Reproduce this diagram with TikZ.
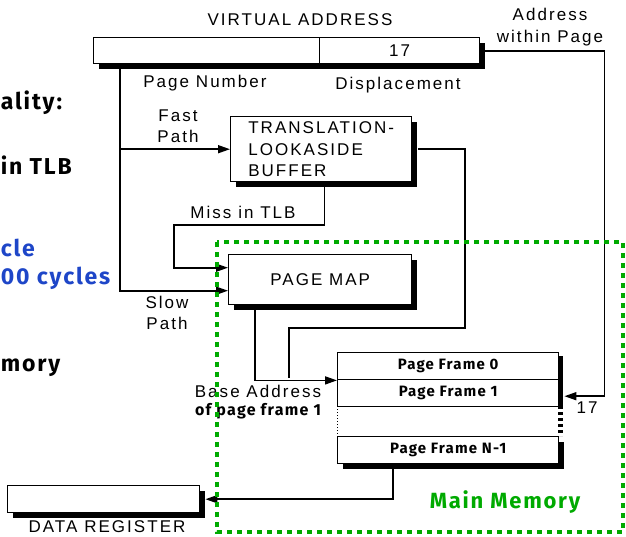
\documentclass[tikz,border=0pt]{standalone}
\usepackage{fontspec}
\setmainfont{Liberation Sans}
\newfontfamily\boxfont[LetterSpace=12]{Liberation Sans}
\newfontfamily\comicfont[LetterSpace=8]{Fira Sans}
\usetikzlibrary{arrows.meta}
\usetikzlibrary{shadows}

\definecolor{memgreen}{RGB}{0,170,0}
\definecolor{noteblue}{RGB}{30,70,200}

\begin{document}
\begin{tikzpicture}[x=1pt,y=-1pt,line width=1.6pt,
  box/.style={draw,fill=white,line width=1.4pt,inner sep=0pt,anchor=north west,
    drop shadow={shadow xshift=5pt,shadow yshift=-5pt,opacity=1,fill=black}},
  lbl/.style={font={\boxfont\fontsize{17}{21.5}\selectfont},inner sep=0pt},
  frame/.style={draw,fill=white,line width=1.4pt,inner sep=0pt,anchor=north west,
    minimum width=221pt,minimum height=27pt,font={\comicfont\bfseries\fontsize{15}{17}\selectfont}},
  note/.style={anchor=west,inner sep=0pt,font={\comicfont\bfseries\fontsize{23}{25}\selectfont}},
  wire/.style={-{Triangle[length=12pt,width=8pt]}}]
\useasboundingbox (0,0) rectangle (626,536);
\clip (0,0) rectangle (626,536);

% slide text cut off at the left
\node[note] (n1) at (0,103) {ality:};
\node[note] (n2) at (0,165) {in TLB};
\node[note,noteblue] (n3) at (0,248) {cle};
\node[note,noteblue] (n4) at (0,278) {00 cycles};
\node[note] (n5) at (0,368) {mory};

% virtual address
\node[lbl] (vatitle) at (300,20) {VIRTUAL ADDRESS};
\node[box,minimum width=226pt,minimum height=26pt] (vapage) at (93,37) {};
\node[box,lbl,minimum width=160pt,minimum height=26pt,anchor=north west] (vadisp) at (319,37) {17};
\node[lbl] (pnlbl) at (205,83) {Page Number};
\node[lbl] (displbl) at (398,85) {Displacement};
\node[lbl,align=center] (offlbl) at (550,27) {Address\\within Page};

% TLB and page map
\node[box,lbl,align=left,minimum width=181pt,minimum height=65pt] (tlb) at (230,116) {TRANSLATION-\\LOOKASIDE\\BUFFER};
\node[box,lbl,minimum width=183pt,minimum height=50pt] (pagemap) at (228,254) {PAGE MAP};
\node[lbl,align=center] (fastlbl) at (178,126) {Fast\\Path};
\node[lbl] (misslbl) at (243,212) {Miss in TLB};
\node[lbl,align=center] (slowlbl) at (167,313) {Slow\\Path};

% page frames
\fill (558,356) rectangle (563,406);
\draw[line width=5pt,dash pattern=on 3pt off 3pt] (560.5,406) -- (560.5,436);
\draw[line width=1pt,dotted] (337,406) -- (337,436);
\node[frame] (frame0) at (337,352) {Page Frame 0};
\node[frame] (frame1) at (337,379) {Page Frame 1};
\node[frame,drop shadow={shadow xshift=5pt,shadow yshift=-5pt,opacity=1,fill=black}] (frameN) at (337,436) {Page Frame N-1};
\node[lbl] (baselbl) at (258,391) {Base Address};
\node[inner sep=0pt,font={\comicfont\bfseries\fontsize{16}{18}\selectfont}] (baselbl2) at (258,411) {of page frame 1};
\node[lbl] (offnum) at (587,408) {17};

% data register
\node[box,minimum width=192pt,minimum height=27pt] (datareg) at (7,485) {};
\node[lbl] (dreglbl) at (107,527) {DATA REGISTER};

% connectors
\coordinate (pn) at ([xshift=27pt]vapage.south west);
\draw[wire] (pn) |- ([yshift=-11pt]pagemap.west);
\draw[wire] (tlb.west -| pn) -- (tlb.west);
\draw[wire] ([xshift=-88pt]tlb.south east) |- (174,225) |- ([yshift=12pt]pagemap.west);
\draw ([xshift=6pt]tlb.east) -| (465,328) -| (289,378);
\draw[wire] ([xshift=27pt]pagemap.south west) |- (frame0.south west);
\draw[wire] ([xshift=5pt]vadisp.east) -| ([xshift=45pt,yshift=-3pt]frame1.east) -- ([xshift=5pt,yshift=-3pt]frame1.east);
\draw[wire] ([xshift=-55pt]frameN.south) |- ([xshift=5pt]datareg.east);

% main memory
\draw[memgreen,line width=4.5pt,dash pattern=on 5pt off 5pt] (217,242) rectangle (623,532);
\node[memgreen,inner sep=0pt,font={\comicfont\bfseries\fontsize{22}{25}\selectfont}] (memlbl) at (505,502) {Main Memory};
\end{tikzpicture}
\end{document}
